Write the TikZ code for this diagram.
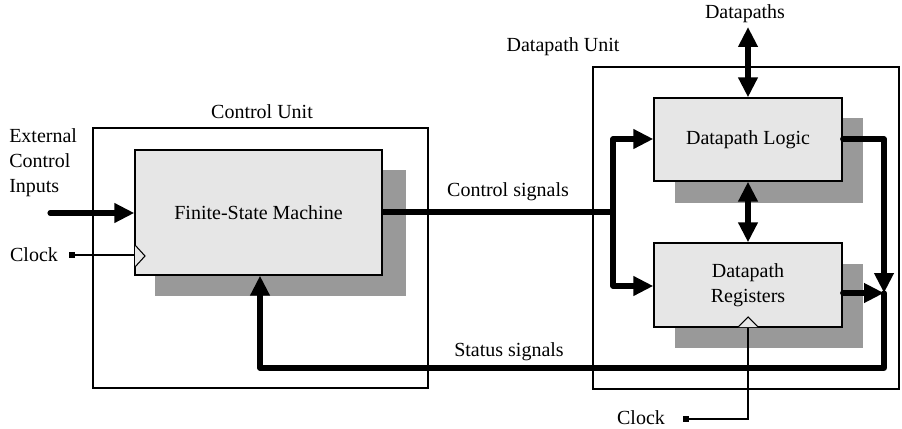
\documentclass[tikz,border=0pt]{standalone}
\usepackage{fontspec}
\setmainfont{Liberation Serif}
\usetikzlibrary{arrows.meta,fit}
\tikzset{
  unitbox/.style={draw=black, line width=0.8pt, inner sep=0pt},
  block/.style={draw=black, line width=1pt, fill=blockfill, inner sep=0pt, align=center},
  shade/.style={fill=shadegray, draw=none},
  bus/.style={line width=3.8pt, line join=round, line cap=round},
  bushead/.style={Triangle[length=15pt,width=14pt]},
  busarrow/.style={bus, -{Triangle[length=15pt,width=14pt]}},
  busboth/.style={bus, line cap=butt, {Triangle[length=15pt,width=14pt]}-{Triangle[length=15pt,width=14pt]}},
  wire/.style={line width=0.8pt},
  lbl/.style={inner sep=0pt, align=center},
  clkdot/.style={fill=black, inner sep=0pt, minimum size=4.5pt},
}
\definecolor{blockfill}{HTML}{E6E6E6}
\definecolor{shadegray}{HTML}{999999}
\begin{document}
\begin{tikzpicture}[x=0.75pt,y=-0.75pt, font=\fontsize{15}{18.75}\selectfont]
\useasboundingbox (0,0) rectangle (902,428);

% outer unit frames
\node[unitbox, fit={(93,128) (428,388)}] (cu) {};
\node[unitbox, fit={(593,67) (899,389)}] (du) {};
\node[lbl] (cul) at (262,112) {Control Unit};
\node[lbl] (dul) at (563,47) {Datapath Unit};

% drop shadows
\fill[shade] (155,170) rectangle (406,296);
\fill[shade] (675,118) rectangle (863,203);
\fill[shade] (675,264) rectangle (863,348);

% blocks
\node[block, fit={(135,150) (382,275)}] (fsm) {};
\node[lbl] at (fsm.center) {Finite-State Machine};
\node[block, fit={(654,98) (842,181)}] (dl) {};
\node[lbl] at (dl.center) {Datapath Logic};
\node[block, fit={(654,243) (842,327)}] (dr) {};
\node[lbl] at (dr.center) {Datapath\\Registers};

% external inputs
\node[lbl, align=left, anchor=west] (ext) at (9,163) {External\\Control\\Inputs};
\coordinate (extin) at (50,213);
\draw[busarrow] (extin) -- (fsm.west |- extin);

% clock to the state machine
\node[lbl] (clk1) at (34,255) {Clock};
\node[clkdot] (sq1) at (72,255) {};
\draw[wire] (sq1) -- (fsm.west |- sq1);
\draw[wire, fill=blockfill] (135,245) -- (145,256) -- (135,267);

% control signals bus
\node[lbl] (cs) at (508,192) {Control signals};
\coordinate (split) at (613,212);
\draw[bus, line cap=butt] (fsm.east |- split) -- (split);
\draw[busarrow] (split) -- (613,139) -- (dl.west |- 0,139);
\draw[busarrow] (split) -- (613,286) -- (dr.west |- 0,286);

% datapaths bus and logic/register link
\node[lbl] (dps) at (745,14) {Datapaths};
\coordinate (dptop) at (748,27);
\draw[busboth] (dptop) -- (dl.north);
\draw[busboth] (dl.south) -- (dr.north);

% status signals
\coordinate (merge) at (884,293);
\draw[busarrow] (dl.east |- 0,139) -- (884,139) -- (merge);
\draw[busarrow] (dr.east |- merge) -- (merge);
\draw[busarrow] (merge) -- (884,368) -- (260,368) -- (260,0 |- fsm.south);
\node[lbl] (ss) at (509,352) {Status signals};

% clock to the registers
\node[lbl] (clk2) at (641,418) {Clock};
\node[clkdot] (sq2) at (686,419) {};
\draw[wire] (sq2) -- (748,419) -- (dr.south);
\draw[wire, fill=blockfill] (738,327) -- (748,317) -- (758,327);
\end{tikzpicture}
\end{document}
